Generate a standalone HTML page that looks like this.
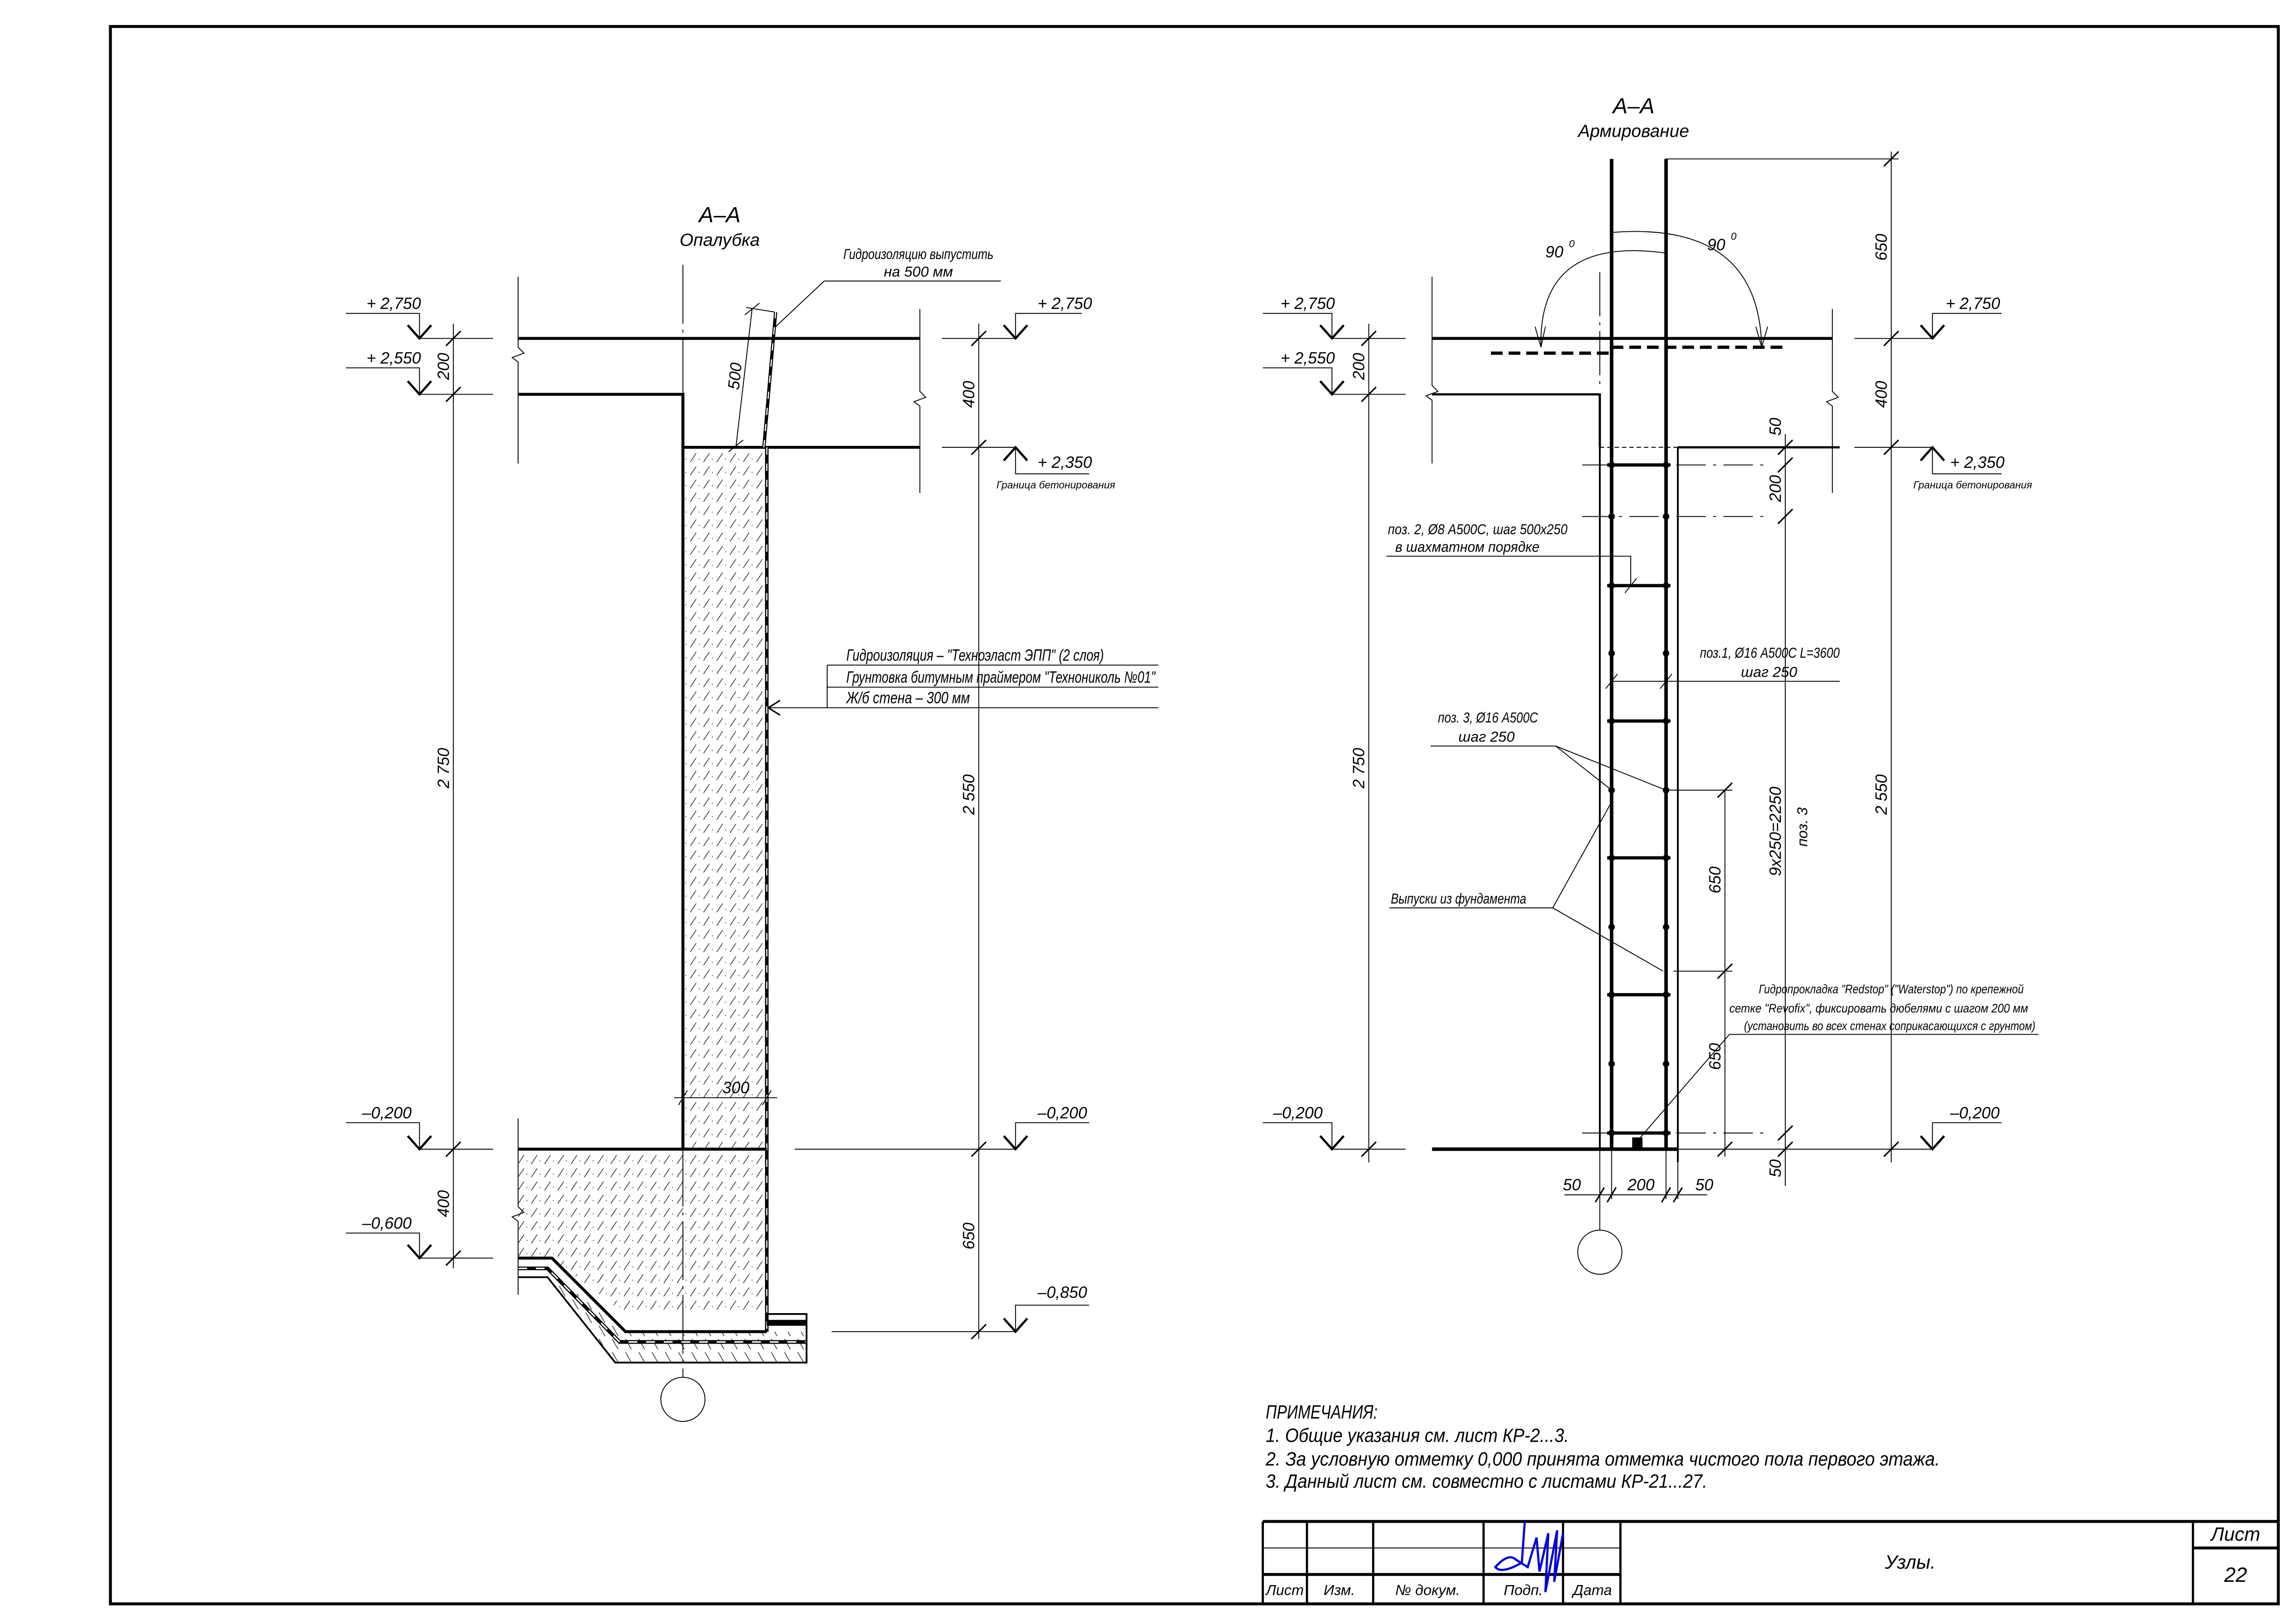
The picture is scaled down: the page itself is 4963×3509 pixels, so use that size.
<!DOCTYPE html>
<html><head><meta charset="utf-8">
<style>
html,body{margin:0;padding:0;background:#fff;}
svg{display:block;}
text{font-family:"Liberation Sans","Noto Sans CJK SC",sans-serif;font-style:italic;fill:#000;}
.t{font-size:11px;}
.s{font-size:7px;}
.m{font-size:13px;}
</style></head>
<body>
<svg xmlns="http://www.w3.org/2000/svg" width="4963" height="3509" viewBox="0 0 1560 1103">
<defs>
<pattern id="h" patternUnits="userSpaceOnUse" width="9" height="9">
<path d="M1,8 L5,2" stroke="#000" stroke-width="0.4"/>
<circle cx="7" cy="6" r="0.3" fill="#000"/>
</pattern>
<pattern id="h2" patternUnits="userSpaceOnUse" width="9" height="9">
<path d="M2,1 L6,8" stroke="#000" stroke-width="0.4"/>
</pattern>
</defs>
<rect width="1560" height="1103" fill="#fff"/>
<rect x="75" y="18" width="1473" height="1072" fill="none" stroke="#000" stroke-width="2"/>

<g stroke="#000" fill="none" stroke-width="0.6">
<rect x="464" y="304" width="57" height="477" fill="url(#h)" stroke="none"/>
<path d="M352,781 L521,781 L521,893 L425,893 L375,855 L352,855 Z" fill="url(#h)" stroke="none"/>
<path d="M352,866 L372,866 L418,926 L548,926 L548,905 L425,905 L375,866" fill="url(#h2)" stroke="none"/>
<path d="M464,180 L464,936" stroke-dasharray="40,4,2,4"/>
<circle cx="464" cy="951" r="15"/>
<path d="M352,230 L625,230" stroke-width="2"/>
<path d="M352,268 L464,268 L464,781" stroke-width="2"/>
<path d="M464,304 L625,304" stroke-width="2"/>
<path d="M521,304 L521,905" stroke-width="2.4"/>
<path d="M521,304 L521,905" stroke="#fff" stroke-width="0.8" stroke-dasharray="5,6"/>
<path d="M519,304 L527,212" stroke-width="2.2"/>
<path d="M519,304 L527,212" stroke="#fff" stroke-width="0.8" stroke-dasharray="5,6"/>
<path d="M352,781 L521,781" stroke-width="2"/>
<path d="M352,855 L375,855 L425,905 L521,905" stroke-width="2"/>
<path d="M352,862 L372,862 L421,912 L548,912" stroke-width="2.5"/>
<path d="M352,862 L372,862 L421,912 L548,912" stroke="#fff" stroke-width="1" stroke-dasharray="6,6"/>
<path d="M352,868 L372,868 L418,926 L548,926 L548,893 L521,893" stroke-width="1.2"/>
<path d="M521,899 L548,899" stroke-width="4"/>
<path d="M352,188 L352,236 L356,240 L348,243 L352,246 L352,315"/>
<path d="M352,760 L352,820 L356,824 L348,827 L352,830 L352,880"/>
<path d="M625,210 L625,266 L629,270 L621,273 L625,276 L625,335"/>
<path d="M308,220 L308,862"/>
<path d="M303,235 L313,225 M303,273 L313,263 M303,786 L313,776 M303,860 L313,850" stroke-width="1"/>
<path d="M285,230 L335,230 M285,268 L335,268 M285,781 L335,781 M285,855 L335,855"/>
<path d="M235,213 L285,213 L285,230" />
<path d="M235,250 L285,250 L285,268" />
<path d="M235,763 L285,763 L285,781" />
<path d="M235,838 L285,838 L285,855" />
<path d="M277,221 L285,230 L293,221 M277,259 L285,268 L293,259 M277,772 L285,781 L293,772 M277,846 L285,855 L293,846" stroke-width="1.5"/>
<path d="M665,220 L665,910"/>
<path d="M660,235 L670,225 M660,309 L670,299 M660,786 L670,776 M660,910 L670,900" stroke-width="1"/>
<path d="M640,230 L690,230 M640,304 L690,304 M540,781 L690,781 M565,905 L690,905"/>
<path d="M735,213 L690,213 L690,230 M740,322 L690,322 L690,304 M740,763 L690,763 L690,781 M740,887 L690,887 L690,905"/>
<path d="M682,221 L690,230 L698,221 M682,313 L690,304 L698,313 M682,772 L690,781 L698,772 M682,896 L690,905 L698,896" stroke-width="1.5"/>
<path d="M511,210 L500,304 M507,209 L526,212 M506,214 L516,206 M495,307 L505,299"/>
<path d="M560,191 L680,191 M560,191 L527,222"/>
<path d="M562,452 L787,452 M562,467 L787,467 M522,481 L787,481 M562,452 L562,481"/>
<path d="M530,476 L522,481 L530,486" stroke-width="1"/>
<path d="M458,746 L528,746 M461,751 L467,741 M518,751 L524,741"/>

<path d="M973,230 L1245,230" stroke-width="2"/>
<path d="M973,268 L1087,268 L1087,304" stroke-width="1.5"/>
<path d="M1087,304 L1140,304" stroke-dasharray="3,2"/>
<path d="M1140,304 L1250,304" stroke-width="1.5"/>
<path d="M1087,304 L1087,781 M1140,304 L1140,790" stroke-width="1.2"/>
<path d="M1095,108 L1095,781 M1132,108 L1132,781" stroke-width="2.4"/>
<path d="M973,781 L1140,781" stroke-width="2.4"/>
<path d="M1013,240 L1095,240 M1095,236 L1215,236" stroke-width="2.2" stroke-dasharray="8,4"/>
<path d="M1087,185 L1087,262" stroke-dasharray="30,4,2,4"/>
<path d="M1132,172 Q1045,160 1047,236"/>
<path d="M1095,158 Q1195,150 1197,236"/>
<path d="M1043,222 L1047,236 L1050,222 M1193,222 L1197,236 L1201,222"/>
<path d="M973,188 L973,262 L977,266 L969,269 L973,272 L973,315"/>
<path d="M1245,210 L1245,266 L1249,270 L1241,273 L1245,276 L1245,335"/>
<path d="M1075,316 L1200,316 M1075,351 L1200,351 M1075,770 L1200,770" stroke-dasharray="20,5,2,5"/>
<path d="M1092,316 L1135,316 M1092,398 L1135,398 M1092,490 L1135,490 M1092,583 L1135,583 M1092,676 L1135,676 M1092,770 L1135,770" stroke-width="2.2"/>
<rect x="1109" y="773" width="7" height="7" fill="#000" stroke="none"/>
<path d="M930,220 L930,790"/>
<path d="M925,235 L935,225 M925,273 L935,263 M925,786 L935,776" stroke-width="1"/>
<path d="M905,230 L955,230 M905,268 L955,268 M905,781 L955,781"/>
<path d="M858,213 L905,213 L905,230 M858,250 L905,250 L905,268 M858,763 L905,763 L905,781"/>
<path d="M897,221 L905,230 L913,221 M897,259 L905,268 L913,259 M897,772 L905,781 L913,772" stroke-width="1.5"/>
<path d="M1285,103 L1285,790"/>
<path d="M1132,108 L1290,108"/>
<path d="M1280,113 L1290,103 M1280,235 L1290,225 M1280,309 L1290,299 M1280,786 L1290,776" stroke-width="1"/>
<path d="M1260,230 L1313,230 M1260,304 L1313,304 M1140,781 L1313,781"/>
<path d="M1360,213 L1313,213 L1313,230 M1360,322 L1313,322 L1313,304 M1360,763 L1313,763 L1313,781"/>
<path d="M1305,221 L1313,230 L1321,221 M1305,313 L1313,304 L1321,313 M1305,772 L1313,781 L1321,772" stroke-width="1.5"/>
<path d="M1213,295 L1213,806"/>
<path d="M1208,309 L1218,299 M1208,321 L1218,311 M1208,356 L1218,346 M1208,775 L1218,765 M1208,786 L1218,776" stroke-width="1"/>
<path d="M1172,537 L1172,786"/>
<path d="M1132,537 L1177,537 M1137,660 L1177,660"/>
<path d="M1167,542 L1177,532 M1167,665 L1177,655 M1167,786 L1177,776" stroke-width="1"/>
<path d="M1063,812 L1160,812 M1087,781 L1087,836 M1095,781 L1095,815 M1132,781 L1132,815 M1140,790 L1140,815"/>
<path d="M1084,817 L1090,807 M1092,817 L1098,807 M1129,817 L1135,807 M1137,817 L1143,807" stroke-width="1"/>
<circle cx="1087" cy="851" r="15"/>
<path d="M942,378 L1108,378 L1108,398 M1104,403 L1112,393"/>
<path d="M1095,463 L1250,463 M1091,468 L1099,458 M1128,468 L1136,458"/>
<path d="M972,507 L1057,507 L1095,537 M1057,507 L1132,537"/>
<path d="M944,617 L1055,617 L1095,545 M1055,617 L1130,660"/>
<path d="M1175,703 L1385,703 M1175,703 L1112,776"/>
<path d="M858,1034 L1548,1034" stroke-width="2"/>
<path d="M858,1070 L1101,1070" stroke-width="2"/>
<path d="M858,1052 L1101,1052"/>
<path d="M1490,1052 L1548,1052" stroke-width="2"/>
<path d="M858,1034 L858,1090 M888,1034 L888,1090 M933,1034 L933,1090 M1008,1034 L1008,1090 M1062,1034 L1062,1090 M1101,1034 L1101,1090 M1490,1034 L1490,1090" stroke-width="1.5"/>
</g>
<g fill="#000">
<circle cx="1095" cy="316" r="2.2"/><circle cx="1132" cy="316" r="2.2"/>
<circle cx="1095" cy="351" r="2.2"/><circle cx="1132" cy="351" r="2.2"/>
<circle cx="1095" cy="398" r="2.2"/><circle cx="1132" cy="398" r="2.2"/>
<circle cx="1095" cy="444" r="2.2"/><circle cx="1132" cy="444" r="2.2"/>
<circle cx="1095" cy="490" r="2.2"/><circle cx="1132" cy="490" r="2.2"/>
<circle cx="1095" cy="537" r="2.2"/><circle cx="1132" cy="537" r="2.2"/>
<circle cx="1095" cy="583" r="2.2"/><circle cx="1132" cy="583" r="2.2"/>
<circle cx="1095" cy="630" r="2.2"/><circle cx="1132" cy="630" r="2.2"/>
<circle cx="1095" cy="676" r="2.2"/><circle cx="1132" cy="676" r="2.2"/>
<circle cx="1095" cy="723" r="2.2"/><circle cx="1132" cy="723" r="2.2"/>
<circle cx="1095" cy="770" r="2.2"/><circle cx="1132" cy="770" r="2.2"/>
</g>
<path d="M1036,1034 L1034,1062 Q1020,1070 1016,1065 Q1025,1055 1030,1060 L1038,1065 L1044,1045 L1046,1068 L1052,1042 L1050,1082 L1058,1040 L1056,1075 L1062,1042" stroke="#0000dd" stroke-width="1.5" fill="none"/>

<g class="t">
<text x="489" y="151" text-anchor="middle" style="font-size:15px">А–А</text>
<text x="489" y="167" text-anchor="middle" style="font-size:12px">Опалубка</text>
<text x="573" y="176" style="font-size:10px" textLength="102" lengthAdjust="spacingAndGlyphs">Гидроизоляцию выпустить</text>
<text x="624" y="188" text-anchor="middle" style="font-size:10px">на 500 мм</text>
<text x="249" y="210">+ 2,750</text>
<text x="249" y="247">+ 2,550</text>
<text x="246" y="760">–0,200</text>
<text x="246" y="835">–0,600</text>
<text x="705" y="210">+ 2,750</text>
<text x="705" y="318">+ 2,350</text>
<text x="677" y="332" class="s">Граница бетонирования</text>
<text x="705" y="760">–0,200</text>
<text x="705" y="882">–0,850</text>
<text transform="translate(305,249) rotate(-90)" text-anchor="middle">200</text>
<text transform="translate(305,522) rotate(-90)" text-anchor="middle">2 750</text>
<text transform="translate(305,818) rotate(-90)" text-anchor="middle">400</text>
<text transform="translate(662,268) rotate(-90)" text-anchor="middle">400</text>
<text transform="translate(662,540) rotate(-90)" text-anchor="middle">2 550</text>
<text transform="translate(662,840) rotate(-90)" text-anchor="middle">650</text>
<text transform="translate(503,256) rotate(-84)" text-anchor="middle">500</text>
<text x="500" y="743" text-anchor="middle">300</text>
<text x="575" y="449" textLength="175" lengthAdjust="spacingAndGlyphs">Гидроизоляция – "Техноэласт ЭПП" (2 слоя)</text>
<text x="575" y="464" textLength="210" lengthAdjust="spacingAndGlyphs">Грунтовка битумным праймером "Технониколь №01"</text>
<text x="575" y="478" textLength="84" lengthAdjust="spacingAndGlyphs">Ж/б стена – 300 мм</text>

<text x="1110" y="77" text-anchor="middle" style="font-size:15px">А–А</text>
<text x="1110" y="93" text-anchor="middle" style="font-size:12px">Армирование</text>
<text x="1050" y="175">90</text><text x="1066" y="168" style="font-size:7px">0</text>
<text x="1160" y="170">90</text><text x="1176" y="163" style="font-size:7px">0</text>
<text x="870" y="210">+ 2,750</text>
<text x="870" y="247">+ 2,550</text>
<text x="865" y="760">–0,200</text>
<text x="1322" y="210">+ 2,750</text>
<text x="1325" y="318">+ 2,350</text>
<text x="1300" y="332" class="s">Граница бетонирования</text>
<text x="1325" y="760">–0,200</text>
<text transform="translate(927,249) rotate(-90)" text-anchor="middle">200</text>
<text transform="translate(927,522) rotate(-90)" text-anchor="middle">2 750</text>
<text transform="translate(1282,168) rotate(-90)" text-anchor="middle">650</text>
<text transform="translate(1282,268) rotate(-90)" text-anchor="middle">400</text>
<text transform="translate(1282,540) rotate(-90)" text-anchor="middle">2 550</text>
<text transform="translate(1210,290) rotate(-90)" text-anchor="middle">50</text>
<text transform="translate(1210,332) rotate(-90)" text-anchor="middle">200</text>
<text transform="translate(1210,565) rotate(-90)" text-anchor="middle">9х250=2250</text>
<text transform="translate(1228,562) rotate(-90)" text-anchor="middle" style="font-size:10px">поз. 3</text>
<text transform="translate(1210,794) rotate(-90)" text-anchor="middle">50</text>
<text transform="translate(1169,598) rotate(-90)" text-anchor="middle">650</text>
<text transform="translate(1169,718) rotate(-90)" text-anchor="middle">650</text>
<text x="1068" y="809" text-anchor="middle">50</text>
<text x="1115" y="809" text-anchor="middle">200</text>
<text x="1158" y="809" text-anchor="middle">50</text>
<text x="943" y="363" style="font-size:10px" textLength="122" lengthAdjust="spacingAndGlyphs">поз. 2, Ø8 А500С, шаг 500х250</text>
<text x="948" y="375" style="font-size:10px" textLength="98" lengthAdjust="spacingAndGlyphs">в шахматном порядке</text>
<text x="1155" y="447" style="font-size:10px" textLength="95" lengthAdjust="spacingAndGlyphs">поз.1, Ø16 А500С L=3600</text>
<text x="1202" y="460" text-anchor="middle" style="font-size:10px">шаг 250</text>
<text x="977" y="491" style="font-size:10px" textLength="68" lengthAdjust="spacingAndGlyphs">поз. 3, Ø16 А500С</text>
<text x="1010" y="504" text-anchor="middle" style="font-size:10px">шаг 250</text>
<text x="945" y="614" style="font-size:10px" textLength="92" lengthAdjust="spacingAndGlyphs">Выпуски из фундамента</text>
<text x="1195" y="675" style="font-size:8.5px" textLength="180" lengthAdjust="spacingAndGlyphs">Гидропрокладка "Redstop" ("Waterstop") по крепежной</text>
<text x="1175" y="688" style="font-size:8.5px" textLength="203" lengthAdjust="spacingAndGlyphs">сетке "Revofix", фиксировать дюбелями с шагом 200 мм</text>
<text x="1185" y="700" style="font-size:8.5px" textLength="198" lengthAdjust="spacingAndGlyphs">(установить во всех стенах соприкасающихся с грунтом)</text>

<text x="860" y="964" class="m" textLength="76" lengthAdjust="spacingAndGlyphs">ПРИМЕЧАНИЯ:</text>
<text x="860" y="980" class="m" textLength="206" lengthAdjust="spacingAndGlyphs">1. Общие указания см. лист КР-2...3.</text>
<text x="860" y="996" class="m" textLength="458" lengthAdjust="spacingAndGlyphs">2. За условную отметку 0,000 принята отметка чистого пола первого этажа.</text>
<text x="860" y="1011" class="m" textLength="300" lengthAdjust="spacingAndGlyphs">3. Данный лист см. совместно с листами КР-21...27.</text>

<text x="873" y="1084" text-anchor="middle" style="font-size:10px">Лист</text>
<text x="910" y="1084" text-anchor="middle" style="font-size:10px">Изм.</text>
<text x="970" y="1084" text-anchor="middle" style="font-size:10px">№ докум.</text>
<text x="1035" y="1084" text-anchor="middle" style="font-size:10px">Подп.</text>
<text x="1082" y="1084" text-anchor="middle" style="font-size:10px">Дата</text>
<text x="1298" y="1066" text-anchor="middle" style="font-size:13px">Узлы.</text>
<text x="1519" y="1047" text-anchor="middle" style="font-size:13px">Лист</text>
<text x="1519" y="1075" text-anchor="middle" style="font-size:14px">22</text>
</g>
</svg>
</body></html>
